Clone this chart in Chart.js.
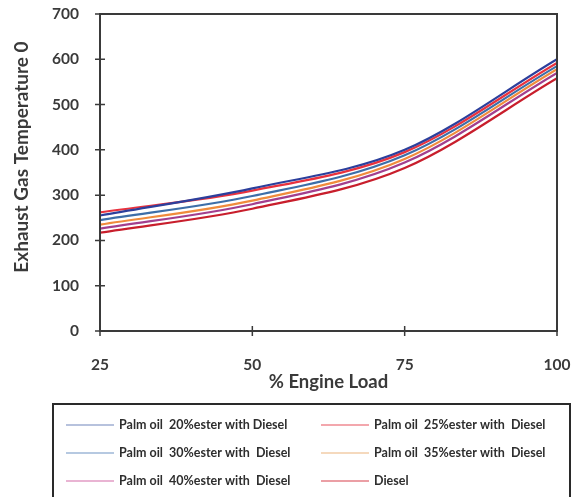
<!DOCTYPE html>
<html>
<head>
<meta charset="utf-8">
<script src="https://cdn.jsdelivr.net/npm/chart.js@4"></script>
<style>
  html, body { margin: 0; padding: 0; background: #ffffff; }
  #wrap { position: relative; width: 587px; height: 497px; }
</style>
</head>
<body>
<div id="wrap"><canvas id="exhaustChart" width="587" height="497"></canvas></div>
<script>
// Chart values
const engineLoad = [25, 50, 75, 100];
const seriesNames = [
  'Palm oil  20%ester with Diesel',
  'Palm oil  25%ester with  Diesel',
  'Palm oil  30%ester with  Diesel',
  'Palm oil  35%ester with  Diesel',
  'Palm oil  40%ester with  Diesel',
  'Diesel'
];
const ester20 = [255, 315, 400, 600];
const ester25 = [262, 310, 395, 592];
const ester30 = [245, 298, 388, 585];
const ester35 = [235, 288, 380, 578];
const ester40 = [226, 280, 372, 570];
const diesel = [217, 270, 360, 558];
const yTicks = [0, 100, 200, 300, 400, 500, 600, 700];
const yTitle = 'Exhaust Gas Temperature 0';

const lineColors = ['#2c3f9c', '#e8323e', '#3d6ea8', '#f08b3c', '#a23f8e', '#c81e2c'];
const legendColors = ['#7085bc', '#e8505c', '#6f94c4', '#ebb47c', '#d46aa8', '#d8404c'];
const allSeries = [ester20, ester25, ester30, ester35, ester40, diesel];

const axisColor = '#3a3a3a';
const fontFam = 'Lato, "Open Sans", sans-serif';

//Build datasets
function buildDatasets() {
  return allSeries.map((vals, i) => ({
    label: seriesNames[i],
    data: engineLoad.map((x, j) => ({ x: x, y: vals[j] })),
    borderColor: lineColors[i],
    backgroundColor: lineColors[i],
    borderWidth: 2.2,
    pointRadius: 0,
    tension: 0.4,
    cubicInterpolationMode: 'monotone',
    fill: false
  }));
}

//Box around the plot area plus crossing tick marks
const frameAndTicks = {
  id: 'frameAndTicks',
  afterDatasetsDraw(chart) {
    const ctx = chart.ctx;
    const a = chart.chartArea;
    const xs = chart.scales.x;
    const ys = chart.scales.y;
    ctx.save();
    ctx.strokeStyle = axisColor;
    ctx.lineWidth = 2;
    ctx.strokeRect(a.left, a.top, a.right - a.left, a.bottom - a.top);
    ctx.lineWidth = 1.5;
    ctx.beginPath();
    yTicks.forEach(v => {
      const y = ys.getPixelForValue(v);
      ctx.moveTo(a.left - 5, y);
      ctx.lineTo(a.left + 5, y);
    });
    engineLoad.forEach(v => {
      const x = xs.getPixelForValue(v);
      ctx.moveTo(x, a.bottom - 5);
      ctx.lineTo(x, a.bottom + 5);
    });
    ctx.stroke();

    //y axis title, sitting a little above the plot centre like the original
    ctx.translate(22, 157);
    ctx.rotate(-Math.PI / 2);
    ctx.fillStyle = axisColor;
    ctx.font = 'bold 19px ' + fontFam;
    ctx.textAlign = 'center';
    ctx.textBaseline = 'middle';
    ctx.fillText(yTitle, 0, 0);
    ctx.restore();
  }
};

//Legend box below the chart, two columns
const boxLegend = {
  id: 'boxLegend',
  afterDraw(chart) {
    const ctx = chart.ctx;
    ctx.save();
    ctx.strokeStyle = '#2a2a2a';
    ctx.lineWidth = 2;
    ctx.strokeRect(53, 404, 517, 100);
    ctx.font = 'bold 12.5px ' + fontFam;
    ctx.textBaseline = 'middle';
    ctx.fillStyle = '#2e2e2e';
    chart.data.datasets.forEach((ds, i) => {
      const col = i % 2;
      const row = Math.floor(i / 2);
      const y = 425 + row * 28;
      const x0 = col === 0 ? 66 : 321;
      ctx.strokeStyle = legendColors[i];
      ctx.lineWidth = 1.2;
      ctx.beginPath();
      ctx.moveTo(x0, y);
      ctx.lineTo(x0 + 48, y);
      ctx.stroke();
      ctx.fillText(ds.label, x0 + 53, y);
    });
    ctx.restore();
  }
};

function createChart() {
  const ctx = document.getElementById('exhaustChart').getContext('2d');
  /* global Chart */
  return new Chart(ctx, {
    type: 'line',
    data: { datasets: buildDatasets() },
    options: {
      responsive: false,
      animation: false,
      layout: { padding: { top: 14, right: 30, bottom: 96, left: 0 } },
      plugins: {
        legend: { display: false },
        tooltip: { enabled: false }
      },
      scales: {
        x: {
          type: 'linear',
          min: 25,
          max: 100,
          afterFit: s => { s.height = 70; s.paddingLeft = 0; s.paddingRight = 0; },
          afterBuildTicks: s => { s.ticks = engineLoad.map(v => ({ value: v })); },
          grid: { display: false, drawTicks: false },
          border: { display: false },
          ticks: {
            padding: 25,
            color: axisColor,
            font: { family: fontFam, size: 15.5, weight: 'bold' }
          },
          title: {
            display: true,
            text: '% Engine Load',
            color: axisColor,
            padding: { top: 0, bottom: 8 },
            font: { family: fontFam, size: 18.5, weight: 'bold' }
          }
        },
        y: {
          min: 0,
          max: 700,
          afterFit: s => { s.width = 100; s.paddingTop = 0; s.paddingBottom = 0; },
          afterBuildTicks: s => { s.ticks = yTicks.map(v => ({ value: v })); },
          grid: { display: false, drawTicks: false },
          border: { display: false },
          ticks: {
            padding: 21,
            color: axisColor,
            font: { family: fontFam, size: 15.5, weight: 'bold' }
          }
        }
      }
    },
    plugins: [frameAndTicks, boxLegend]
  });
}

document.addEventListener('DOMContentLoaded', createChart);
</script>
</body>
</html>
